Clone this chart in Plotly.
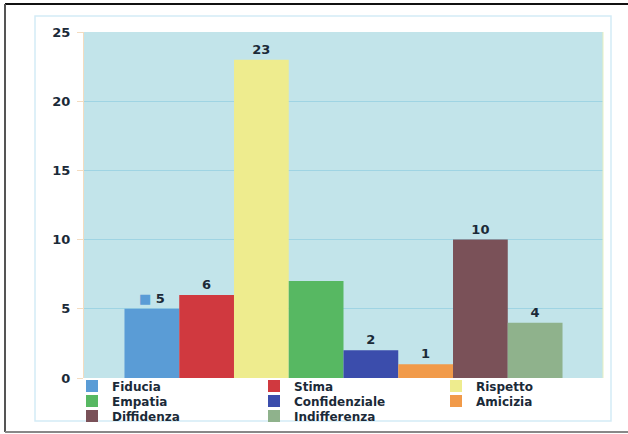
import plotly.graph_objects as go

categories = ["Fiducia", "Stima", "Rispetto", "Empatia", "Confidenziale",
              "Amicizia", "Diffidenza", "Indifferenza"]
values = [5, 6, 23, 7, 2, 1, 10, 4]
show_label = [True, True, True, False, True, True, True, True]
colors = ["#5a9cd6", "#d0393f", "#eeec8e", "#57b862", "#3b4dac",
          "#f19a49", "#7a5158", "#8fb28c"]
y_ticks = [0, 5, 10, 15, 20, 25]

W, H = 628, 434
L, R, T, B = 84, 25, 32, 56
PW, PH = W - L - R, H - T - B

def px(x):
    return (x - L) / PW

def py(y):
    return (H - B - y) / PH

font = dict(family="DejaVu Sans", size=13, color="#1b2a38", weight="bold")

legend_ids = ["legend", "legend2", "legend3"]

fig = go.Figure()
for i, (name, v, c, s) in enumerate(zip(categories, values, colors, show_label)):
    label = str(v) if s else ""
    if i == 0:
        label = f"<span style='color:{c}'>■</span> {v}"
    fig.add_trace(go.Bar(
        x=["gruppo"], y=[v], name=name,
        marker=dict(color=c, line=dict(width=0)),
        text=[label], textposition="outside", cliponaxis=False,
        textfont=font, hoverinfo="skip",
        legend=legend_ids[i // 3],
    ))

row_centers = [386, 401, 416]
legend_common = dict(
    orientation="h", x=px(72), xanchor="left", yanchor="middle",
    entrywidth=137, entrywidthmode="pixels",
    font=dict(family="DejaVu Sans", size=12, color="#1b2a38", weight="bold"),
    bgcolor="rgba(0,0,0,0)", borderwidth=0,
)

fig.update_layout(
    width=W, height=H,
    margin=dict(l=L, r=R, t=T, b=B, autoexpand=False),
    paper_bgcolor="white",
    plot_bgcolor="#c2e4ea",
    barmode="group", bargap=0.156, bargroupgap=0,
    font=font,
    showlegend=True,
    legend=dict(y=py(row_centers[0]), **legend_common),
    legend2=dict(y=py(row_centers[1]), **legend_common),
    legend3=dict(y=py(row_centers[2]), **legend_common),
    xaxis=dict(showticklabels=False, showgrid=False, zeroline=False,
               showline=False, ticks=""),
    yaxis=dict(range=[0, 25], tickvals=y_ticks, showgrid=True,
               gridcolor="#9fd4e3", gridwidth=1, zeroline=False,
               showline=True, linecolor="#f3dcc0", linewidth=1,
               ticks="outside", ticklen=6, tickcolor="#f3dcc0",
               ticklabelstandoff=4, tickfont=font),
    shapes=[
        dict(type="rect", xref="paper", yref="paper",
             x0=px(35), x1=px(611), y0=py(421), y1=py(16),
             line=dict(color="#d4ebf6", width=1.5), layer="below"),
        dict(type="line", xref="paper", yref="paper",
             x0=px(5), x1=px(628), y0=py(4), y1=py(4),
             line=dict(color="#111111", width=2)),
        dict(type="line", xref="paper", yref="paper",
             x0=px(5), x1=px(5), y0=py(4), y1=py(432),
             line=dict(color="#555555", width=2)),
        dict(type="line", xref="paper", yref="paper",
             x0=px(5), x1=px(628), y0=py(432), y1=py(432),
             line=dict(color="#888888", width=2)),
        dict(type="line", xref="paper", yref="paper",
             x0=1, x1=1, y0=0, y1=1,
             line=dict(color="#e8f0c0", width=1)),
    ],
)

fig.write_html("out.html")
